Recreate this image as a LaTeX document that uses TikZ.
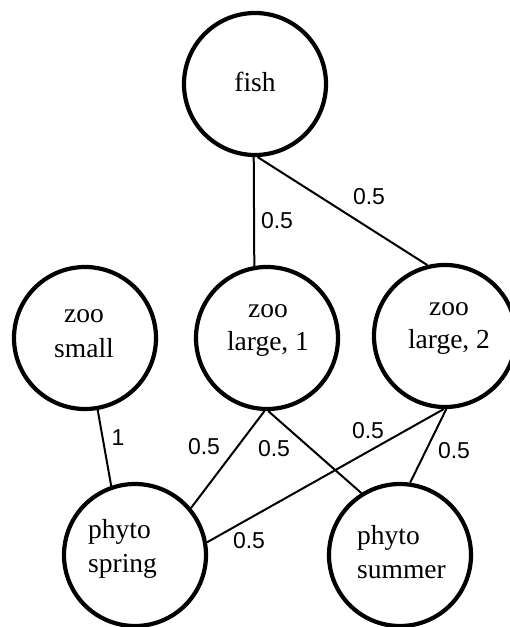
\documentclass[tikz,border=0pt]{standalone}
\usepackage{fontspec}
\setmainfont{Liberation Serif}
\newfontfamily\labfont{Liberation Sans}
\begin{document}
\begin{tikzpicture}[x=1pt,y=-1pt,
  state/.style={circle,draw,line width=4.2pt,minimum size=142pt,inner sep=0pt},
  edge/.style={line width=2pt},
  txt/.style={font=\fontsize{27.5}{33}\selectfont,inner sep=0pt,anchor=base},
  txtl/.style={txt,anchor=base west},
  wt/.style={font=\labfont\fontsize{23}{27}\selectfont,inner sep=0pt}]
\useasboundingbox (0,0) rectangle (510,627);
% circles
\node[state] (fish) at (255,84) {};
\node[state] (zs) at (85,338) {};
\node[state] (z1) at (267,338) {};
\node[state] (z2) at (445,336) {};
\node[state] (ps) at (135,555) {};
\node[state] (pm) at (400,555) {};
% texts
\node[txt] (fisht) at (255,91) {fish};
\node[txt] (zsa) at (84,322) {zoo};
\node[txt] (zsb) at (84,357) {small};
\node[txt] (z1a) at (268,317) {zoo};
\node[txt] (z1b) at (268,350) {large, 1};
\node[txt] (z2a) at (449,315) {zoo};
\node[txt] (z2b) at (449,348) {large, 2};
\node[txtl] (psa) at (88,538) {phyto};
\node[txtl] (psb) at (88,572) {spring};
\node[txtl] (pma) at (357,544) {phyto};
\node[txtl] (pmb) at (357,578) {summer};
% edges
\draw[edge] (fish.269) -- (z1.100);
\draw[edge] (fish.272) -- (z2.104);
\draw[edge] (zs.280) -- (ps.109);
\draw[edge] (z1.268) -- (ps.40);
\draw[edge] (z1.271) -- (pm.122);
\draw[edge] (z2.269) -- (ps.10);
\draw[edge] (z2.271) -- (pm.82);
% weights
\node[wt] (w1) at (277,221) {0.5};
\node[wt] (w2) at (369,197) {0.5};
\node[wt] (w3) at (118,438) {1};
\node[wt] (w4) at (204,447) {0.5};
\node[wt] (w5) at (274,449) {0.5};
\node[wt] (w6) at (368,431) {0.5};
\node[wt] (w7) at (454,451) {0.5};
\node[wt] (w8) at (249,541) {0.5};
\end{tikzpicture}
\end{document}
